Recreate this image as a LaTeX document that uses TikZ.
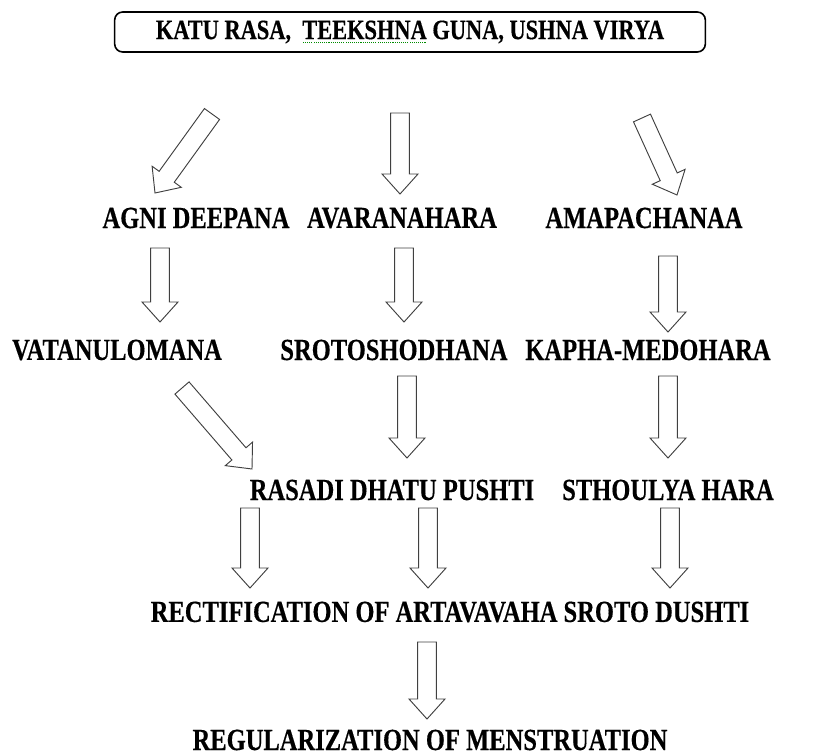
\documentclass[tikz,border=0pt]{standalone}
\usepackage{fontspec}
\setmainfont{Liberation Serif}[FakeStretch=0.8, BoldFeatures={FakeBold=0.4}]
\usetikzlibrary{calc}
\colorlet{arrow-color}{black!75}
\newsavebox{\spellbox}
\newcommand{\spellmark}[1]{\sbox\spellbox{#1}%
    \rlap{\textcolor{green!55!black}{\leaders\hbox to 1.6pt{\hss\rule[-3pt]{0.8pt}{0.8pt}\hss}\hskip\wd\spellbox}}%
    \usebox\spellbox}
\newcommand{\blockarrow}[2]{%
    \coordinate (ah) at ($(#2)!15pt!(#1)$);
    \draw[block-arrow] ($(#1)!7pt!90:(#2)$)
        -- ($(ah)!7pt!-90:(#1)$)
        -- ($(ah)!13.5pt!-90:(#1)$)
        -- (#2)
        -- ($(ah)!13.5pt!90:(#1)$)
        -- ($(ah)!7pt!90:(#1)$)
        -- ($(#1)!7pt!-90:(#2)$)
        -- cycle;
}
\tikzset{
    item/.style = {font=\fontsize{23}{27}\selectfont\bfseries, inner sep=0pt},
    title-box/.style = {draw, line width=1.2pt, rounded corners=6pt, inner sep=0pt,
        font=\fontsize{21}{25}\selectfont\bfseries,
        minimum width=443pt, minimum height=30pt},
    block-arrow/.style = {draw=arrow-color, line width=0.7pt, fill=white, line join=miter},
}
\begin{document}
\begin{tikzpicture}[x=0.75pt,y=-0.75pt]
    \useasboundingbox (0,0) rectangle (814,756);

    \node[title-box] (rasa) at (410,32) {KATU RASA,\ \ \spellmark{TEEKSHNA} GUNA, USHNA VIRYA};

    \node[item] (agni)     at (196,218) {AGNI DEEPANA};
    \node[item] (avarana)  at (402,218) {AVARANAHARA};
    \node[item] (ama)      at (644,218) {AMAPACHANAA};

    \node[item] (vata)     at (117,350) {VATANULOMANA};
    \node[item] (sroto)    at (394,350) {SROTOSHODHANA};
    \node[item] (kapha)    at (648,350) {KAPHA-MEDOHARA};

    \node[item] (rasadi)   at (392,490) {RASADI DHATU PUSHTI};
    \node[item] (sthoulya) at (668,490) {STHOULYA HARA};

    \node[item] (rectif)   at (450,612) {RECTIFICATION OF ARTAVAVAHA SROTO DUSHTI};
    \node[item] (regul)    at (430,740) {REGULARIZATION OF MENSTRUATION};

    % arrow ends
    \coordinate (a1s) at (212,114); \coordinate (a1e) at (155,193);
    \coordinate (a2s) at (400,113); \coordinate (a2e) at (400,194);
    \coordinate (a3s) at (642,118); \coordinate (a3e) at (677,195);

    \coordinate (b1s) at (160,248); \coordinate (b1e) at (160,322);
    \coordinate (b2s) at (404,248); \coordinate (b2e) at (404,322);
    \coordinate (b3s) at (668,256); \coordinate (b3e) at (668,332);

    \coordinate (c1s) at (182,388); \coordinate (c1e) at (252,469);
    \coordinate (c2s) at (407,376); \coordinate (c2e) at (407,458);
    \coordinate (c3s) at (668,376); \coordinate (c3e) at (668,458);

    \coordinate (d1s) at (250,508); \coordinate (d1e) at (250,588);
    \coordinate (d2s) at (428,508); \coordinate (d2e) at (428,588);
    \coordinate (d3s) at (670,508); \coordinate (d3e) at (670,588);

    \coordinate (e1s) at (427,642); \coordinate (e1e) at (427,719);

    \foreach \a in {a1,a2,a3,b1,b2,b3,c1,c2,c3,d1,d2,d3,e1}
        {\blockarrow{\a s}{\a e}}
\end{tikzpicture}
\end{document}
